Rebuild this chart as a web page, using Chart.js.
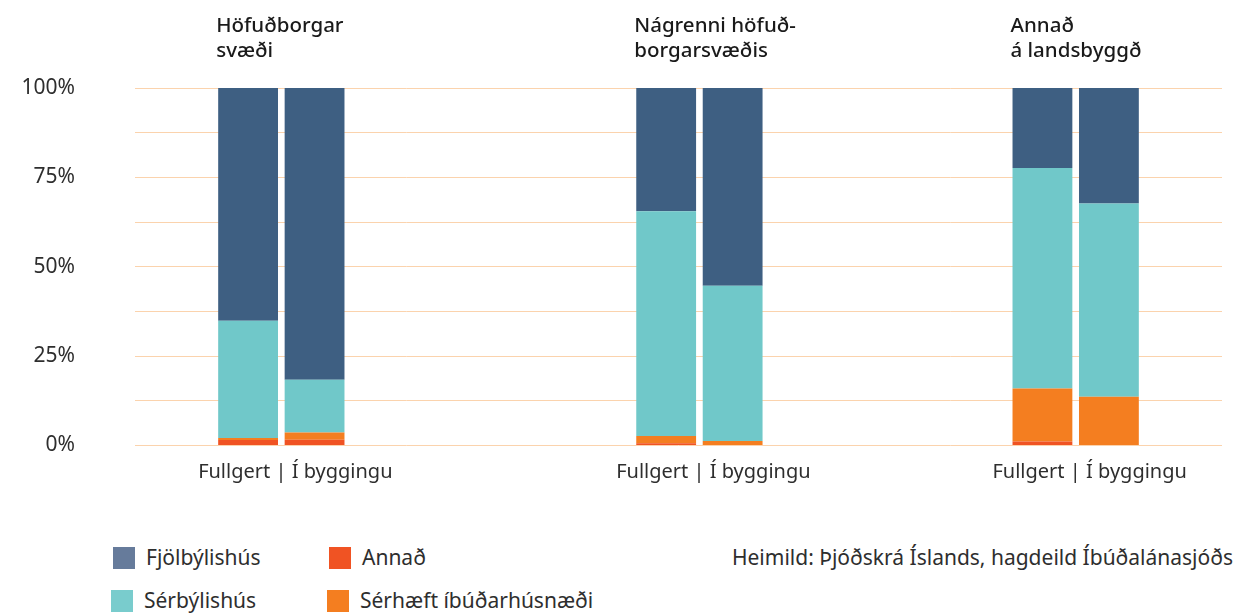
<!DOCTYPE html>
<html>
<head>
<meta charset="utf-8">
<script src="https://cdn.jsdelivr.net/npm/chart.js@4"></script>
<style>
    body { margin: 0; background: #fff; font-family: "Noto Sans", sans-serif; color: #2e2e2e; }
    #chartDiv { position: absolute; left: 0; top: 0; width: 1236px; height: 518px; }
    .key { position: absolute; font-size: 21px; line-height: 22px; white-space: nowrap; }
    .key i { position: absolute; left: 0; top: 0; width: 22px; height: 22px; }
    .key span { position: absolute; left: 33px; top: -1px; }
    #source { position: absolute; right: 3px; top: 543px; font-size: 21px; white-space: nowrap; }
</style>
</head>
<body>
<div id="chartDiv"><canvas id="Chart"></canvas></div>
<div id="legend"></div>
<div id="source">Heimild: Þjóðskrá Íslands, hagdeild Íbúðalánasjóðs</div>
<script>
// data (percent of dwellings)
const regions = ["Höfuðborgarsvæði", "Nágrenni höfuðborgarsvæðis", "Annað á landsbyggð"];
const regionTitles = [["Höfuðborgar", "svæði"], ["Nágrenni höfuð-", "borgarsvæðis"], ["Annað", "á landsbyggð"]];
const stages = ["Fullgert", "Í byggingu"];
const seriesNames = ["Fjölbýlishús", "Sérbýlishús", "Annað", "Sérhæft íbúðarhúsnæði"];

const fjolFullgert = [65.1, 34.5, 22.4];
const serFullgert = [32.8, 62.9, 61.7];
const annadFullgert = [1.5, 0.6, 1.1];
const serhaeftFullgert = [0.6, 2.0, 14.8];

const fjolBygging = [81.6, 55.3, 32.3];
const serBygging = [14.8, 43.5, 54.1];
const annadBygging = [1.6, 0.0, 0.0];
const serhaeftBygging = [2.0, 1.2, 13.6];

const yTicks = [0, 25, 50, 75, 100];

// layout: groups sit on a wider category grid so the gaps match
const slotCount = 26;
const groupSlot = [3, 13, 22];

const barColors = ["#3e5f82", "#70c8c9", "#f05323", "#f47e20"];
const keyColors = ["#667b9b", "#79cccd", "#f05323", "#f47e20"];

const labels = [];
for (let i = 0; i < slotCount; i++) {
    const g = groupSlot.indexOf(i);
    labels.push(g >= 0 ? regions[g] : "");
}

const points = (vals) => vals.map((v, i) => ({ x: regions[i], y: v }));

const makeSet = (name, vals, stack) => ({
    label: name,
    data: points(vals),
    stack: stack,
    backgroundColor: barColors[seriesNames.indexOf(name)],
    borderWidth: 0,
    categoryPercentage: 3.18,
    barPercentage: 0.9,
});

// bottom to top: Annað, Sérhæft, Sérbýli, Fjölbýli
const datasets = [
    makeSet("Annað", annadFullgert, "full"),
    makeSet("Sérhæft íbúðarhúsnæði", serhaeftFullgert, "full"),
    makeSet("Sérbýlishús", serFullgert, "full"),
    makeSet("Fjölbýlishús", fjolFullgert, "full"),
    makeSet("Annað", annadBygging, "bygg"),
    makeSet("Sérhæft íbúðarhúsnæði", serhaeftBygging, "bygg"),
    makeSet("Sérbýlishús", serBygging, "bygg"),
    makeSet("Fjölbýlishús", fjolBygging, "bygg"),
];

// region titles above the left bar of each group
const groupTitles = {
    id: "groupTitles",
    afterDraw(chart) {
        const ctx = chart.ctx;
        const meta = chart.getDatasetMeta(0);
        ctx.save();
        ctx.font = "500 20.5px 'Noto Sans'";
        ctx.fillStyle = "#1a1a1a";
        ctx.textAlign = "left";
        ctx.textBaseline = "alphabetic";
        meta.data.forEach((bar, i) => {
            const left = bar.x - bar.width / 2 - 2;
            regionTitles[i].forEach((line, k) => {
                ctx.fillText(line, left, 32 + k * 25);
            });
        });
        ctx.restore();
    }
};

const ctx = document.getElementById("Chart");
const chart = new Chart(ctx, {
    type: "bar",
    data: { labels: labels, datasets: datasets },
    plugins: [groupTitles],
    options: {
        responsive: true,
        maintainAspectRatio: false,
        animation: false,
        layout: { padding: { top: 88, left: 20, right: 14, bottom: 0 } },
        plugins: {
            legend: { display: false },
            tooltip: { enabled: false },
        },
        scales: {
            x: {
                stacked: true,
                grid: { display: false },
                border: { display: false },
                afterFit: (scale) => { scale.height = 56; },
                ticks: {
                    autoSkip: false,
                    maxRotation: 0,
                    padding: 7,
                    labelOffset: 14,
                    color: "#2e2e2e",
                    font: { family: "Noto Sans", size: 20 },
                    callback: function (v) {
                        return this.getLabelForValue(v) ? stages.join(" | ") : "";
                    },
                },
            },
            y: {
                stacked: true,
                min: 0,
                max: 100,
                grid: { color: "#fbd3ad", lineWidth: 1, drawTicks: false },
                border: { display: false },
                afterFit: (scale) => { scale.width = 115; },
                ticks: {
                    stepSize: 12.5,
                    padding: 60,
                    color: "#2e2e2e",
                    font: { family: "Noto Sans", size: 21 },
                    callback: (v) => yTicks.includes(v) ? v + "%" : "",
                },
            },
        },
    },
});

// legend laid out two by two like the original
const legend = document.getElementById("legend");
const keySpots = [[113, 547], [111, 590], [329, 547], [327, 590]];
seriesNames.forEach((name, i) => {
    const d = document.createElement("div");
    d.className = "key";
    d.style.left = keySpots[i][0] + "px";
    d.style.top = keySpots[i][1] + "px";
    d.innerHTML = '<i style="background:' + keyColors[i] + '"></i><span>' + name + '</span>';
    legend.appendChild(d);
});
</script>
</body>
</html>
